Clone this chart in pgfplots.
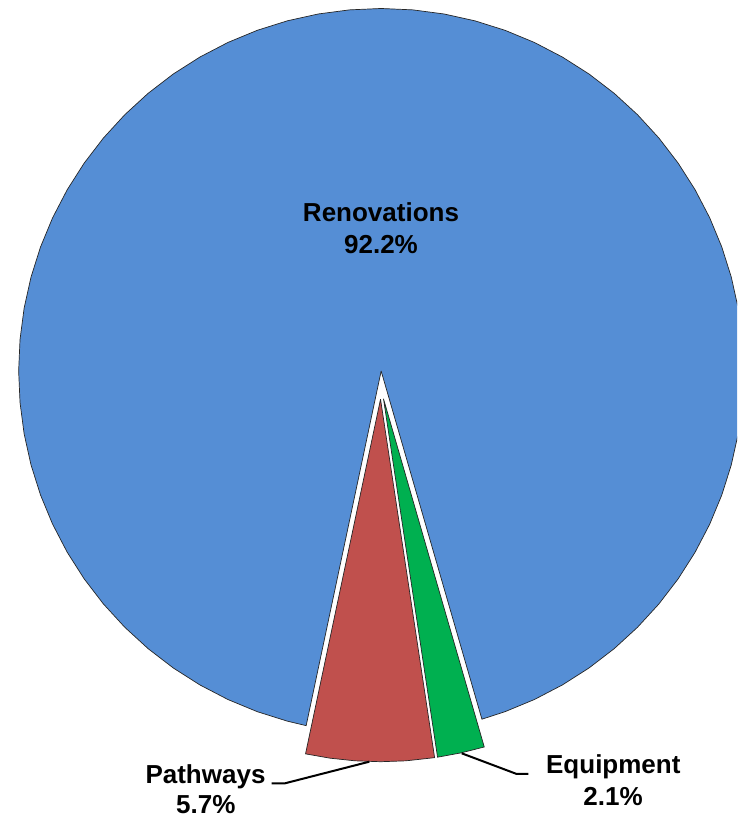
\documentclass[border=0pt]{standalone}
\usepackage{pgfplots}
\pgfplotsset{compat=1.18}
\usepackage{fontspec}
\setmainfont{Liberation Sans}

\definecolor{renov}{HTML}{558ED5}
\definecolor{pathw}{HTML}{C0504D}
\definecolor{equip}{HTML}{00B050}

% slices: Renovations 92.2 %, Pathways 5.7 %, Equipment 2.1 %
% coordinates are (angle, radius), pie radius 362.5

\begin{document}
\begin{tikzpicture}[lbl/.style={font=\bfseries\fontsize{13}{15.8}\selectfont, anchor=base, inner sep=0pt}]
\begin{axis}[
    scale only axis,
    width=369pt, height=408.5pt,
    xmin=-382, xmax=356,
    ymin=-418, ymax=399,
    axis line style={draw=none},
    ticks=none,
    clip mode=individual,
    ]

    % Renovations, exploded
    \addplot[data cs=polar, fill=renov, draw=black!85, line width=0.35pt, xshift=-0.425pt, yshift=14pt]
        coordinates {(0,0)(286.14,362.5)(290,362.5)(295,362.5)(300,362.5)(305,362.5)(310,362.5)(315,362.5)
        (320,362.5)(325,362.5)(330,362.5)(335,362.5)(340,362.5)(345,362.5)(350,362.5)(355,362.5)
        (360,362.5)(365,362.5)(370,362.5)(375,362.5)(380,362.5)(385,362.5)(390,362.5)(395,362.5)
        (400,362.5)(405,362.5)(410,362.5)(415,362.5)(420,362.5)(425,362.5)(430,362.5)(435,362.5)
        (440,362.5)(445,362.5)(450,362.5)(455,362.5)(460,362.5)(465,362.5)(470,362.5)(475,362.5)
        (480,362.5)(485,362.5)(490,362.5)(495,362.5)(500,362.5)(505,362.5)(510,362.5)(515,362.5)
        (520,362.5)(525,362.5)(530,362.5)(535,362.5)(540,362.5)(545,362.5)(550,362.5)(555,362.5)
        (560,362.5)(565,362.5)(570,362.5)(575,362.5)(580,362.5)(585,362.5)(590,362.5)(595,362.5)
        (600,362.5)(605,362.5)(610,362.5)(615,362.5)(618.06,362.5)(0,0)};

    % Pathways
    \addplot[data cs=polar, fill=pathw, draw=black!85, line width=0.35pt, xshift=-0.74pt, yshift=-0.11pt]
        coordinates {(0,0)(258.06,362.5)(262,362.5)(266,362.5)(270,362.5)(274,362.5)(278.58,362.5)(0,0)};

    % Equipment
    \addplot[data cs=polar, fill=equip, draw=black!85, line width=0.35pt, xshift=0.74pt, yshift=0.11pt]
        coordinates {(0,0)(278.58,362.5)(282.36,362.5)(286.14,362.5)(0,0)};

    % leader lines
    \addplot[black, line width=1pt] coordinates {(-110.3,-384.3)(-97,-384.3)(-12.7,-362.7)};
    \addplot[black, line width=1pt] coordinates {(79.7,-354.3)(134.7,-375)(146.3,-375)};

    \node[lbl] at (axis cs:-1,177.3) {Renovations};
    \node[lbl] at (axis cs:-1,145.7) {92.2\%};
    \node[lbl] at (axis cs:-176.5,-384.3) {Pathways};
    \node[lbl] at (axis cs:-176.2,-414.3) {5.7\%};
    \node[lbl] at (axis cs:231.3,-375) {Equipment};
    \node[lbl] at (axis cs:231,-406.6) {2.1\%};
\end{axis}
\end{tikzpicture}
\end{document}
